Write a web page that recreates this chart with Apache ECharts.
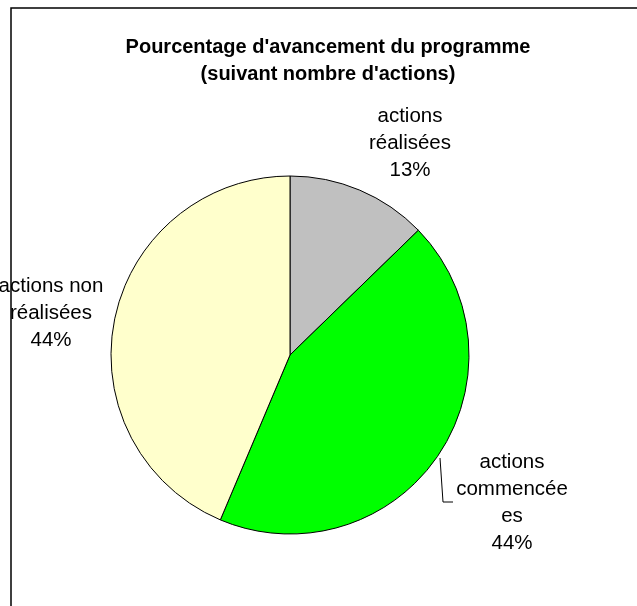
<!DOCTYPE html>
<html>
<head>
<meta charset="utf-8">
<script src="https://cdn.jsdelivr.net/npm/echarts@6/dist/echarts.min.js"></script>
<style>
    html, body {margin:0;padding:0;background:#fff;}
    #chart {width:637px;height:606px;}
</style>
</head>
<body>
<div id="chart"></div>
<script>
    // données : nombre d'actions par état
    var categories = ['actions réalisées', 'actions commencées', 'actions non réalisées'];
    var values = [7, 24, 24];
    var labelTexts = ['actions\nréalisées', 'actions\ncommencée\nes', 'actions non\nréalisées'];
    var colors = ['#C0C0C0', '#00FF00', '#FFFFCC'];

    var chart = echarts.init(document.getElementById('chart'));

    // position des étiquettes (comme dans le graphique Excel)
    var labelSpots = [
        {x: 410, y: 143},
        {x: 512, y: 503},
        {x: 51, y: 313}
    ];

    var option = {
        animation: false,
        textStyle: {fontFamily: 'Liberation Sans, Arial, sans-serif'},
        title: {
            text: "Pourcentage d'avancement du programme\n(suivant nombre d'actions)",
            left: 323,
            top: 29,
            textAlign: 'center',
            textStyle: {fontSize: 20, fontWeight: 'bold', color: '#000', lineHeight: 27, fontFamily: 'Liberation Sans, Arial, sans-serif'}
        },
        graphic: [{
            type: 'rect',
            shape: {x: 11, y: 8, width: 700, height: 700},
            style: {fill: 'none', stroke: '#000', lineWidth: 1.5},
            z: 100
        }],
        series: [{
            type: 'pie',
            center: [290, 355],
            radius: 179,
            startAngle: 90,
            clockwise: true,
            data: categories.map(function (name, i) {
                return {
                    name: name,
                    value: values[i],
                    itemStyle: {color: colors[i]},
                    labelLine: {show: i === 1}
                };
            }),
            itemStyle: {borderColor: '#000', borderWidth: 1},
            label: {
                show: true,
                position: 'outside',
                color: '#000',
                fontSize: 20.5,
                lineHeight: 27,
                align: 'center',
                overflow: 'none',
                formatter: function (p) {
                    return labelTexts[p.dataIndex] + '\n' + Math.round(p.percent) + '%';
                }
            },
            labelLine: {lineStyle: {color: '#000', width: 1}},
            labelLayout: function (params) {
                var s = labelSpots[params.dataIndex];
                var res = {x: s.x, y: s.y, align: 'center', verticalAlign: 'middle'};
                if (params.dataIndex === 1) {
                    res.labelLinePoints = [[440, 458], [443, 502], [453, 502]];
                }
                return res;
            },
            emphasis: {disabled: true}
        }]
    };
    chart.setOption(option);
</script>
</body>
</html>
